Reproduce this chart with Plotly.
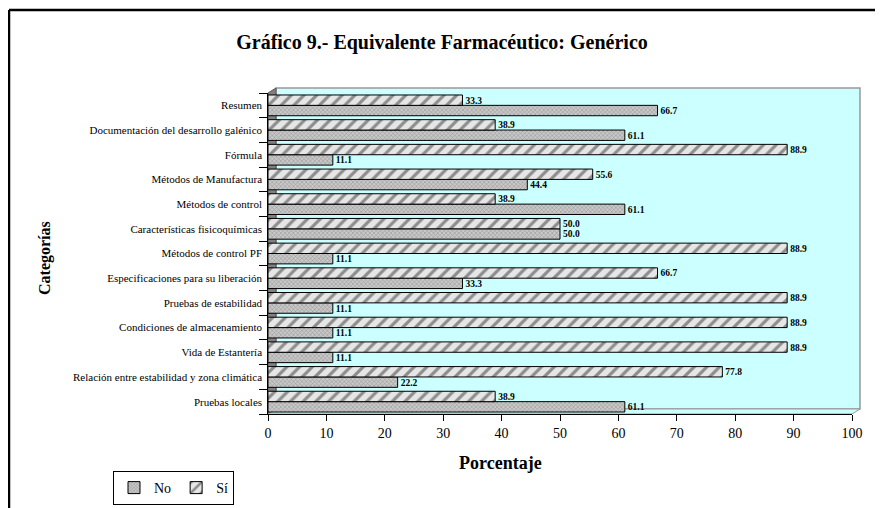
import plotly.graph_objects as go

categories = [
    "Resumen",
    "Documentación del desarrollo galénico",
    "Fórmula",
    "Métodos de Manufactura",
    "Métodos de control",
    "Características fisicoquímicas",
    "Métodos de control PF",
    "Especificaciones para su liberación",
    "Pruebas de estabilidad",
    "Condiciones de almacenamiento",
    "Vida de Estantería",
    "Relación entre estabilidad y zona climática",
    "Pruebas locales",
]
no_values = [66.7, 61.1, 11.1, 44.4, 61.1, 50.0, 11.1, 33.3, 11.1, 11.1, 11.1, 22.2, 61.1]
si_values = [33.3, 38.9, 88.9, 55.6, 38.9, 50.0, 88.9, 66.7, 88.9, 88.9, 88.9, 77.8, 38.9]
x_ticks = [0, 10, 20, 30, 40, 50, 60, 70, 80, 90, 100]

# page body has an 8px margin: figure occupies screen pixels 8..883
OFF = 8
W, H = 883 - OFF, 508 - OFF
# plot area in screen pixels
SL, SR, ST, SB = 268, 852, 93, 414
L, R, T, B = SL - OFF, SR - OFF, ST - OFF, SB - OFF

def px(x):  # screen x -> paper
    return (x - SL) / (SR - SL)

def py(y):  # screen y -> paper
    return (SB - y) / (SB - ST)

SERIF = "Liberation Serif, DejaVu Serif, serif"

fig = go.Figure()
fig.add_trace(go.Bar(
    name="No", y=categories, x=no_values, orientation="h",
    marker=dict(color="#b0b0b0", line=dict(color="#000000", width=1),
                pattern=dict(shape="x", fgcolor="#555555", bgcolor="#c8c8c8", size=3, solidity=0.3)),
    texttemplate="<b>%{x:.1f}</b>", textposition="outside",
    textfont=dict(family=SERIF, size=11, color="#000000"),
    cliponaxis=False,
))
fig.add_trace(go.Bar(
    name="Sí", y=categories, x=si_values, orientation="h",
    marker=dict(color="#e0e0e0", line=dict(color="#000000", width=1),
                pattern=dict(shape="/", fgcolor="#333333", bgcolor="#e6e6e6", size=9, solidity=0.35)),
    texttemplate="<b>%{x:.1f}</b>", textposition="outside",
    textfont=dict(family=SERIF, size=11, color="#000000"),
    cliponaxis=False,
))

dx = 8 / (SR - SL)
dy = 5 / (SB - ST)
shapes = [
    dict(type="rect", xref="paper", yref="paper", x0=dx, x1=1 + dx, y0=dy, y1=1 + dy,
         fillcolor="#CCFFFF", line=dict(color="#999999", width=1.5), layer="below"),
    dict(type="path", xref="paper", yref="paper",
         path=f"M 0 0 L {dx} {dy} L {dx} {1+dy} L 0 1 Z",
         fillcolor="#808080", line=dict(color="#555555", width=1), layer="below"),
    dict(type="path", xref="paper", yref="paper",
         path=f"M 0 0 L 1 0 L {1+dx} {dy} L {dx} {dy} Z",
         fillcolor="#CCFFFF", line=dict(color="#999999", width=1), layer="below"),
    dict(type="line", xref="paper", yref="paper", x0=px(9), x1=px(883), y0=py(10), y1=py(10),
         line=dict(color="#000000", width=2.5)),
    dict(type="line", xref="paper", yref="paper", x0=px(9), x1=px(9), y0=py(10), y1=py(508),
         line=dict(color="#000000", width=2.5)),
]

annotations = [
    dict(text="<b>Categorías</b>", xref="paper", yref="paper", x=px(45), y=py(258),
         xanchor="center", yanchor="middle",
         textangle=-90, showarrow=False, font=dict(family=SERIF, size=16, color="#000000")),
    dict(text="<b>Porcentaje</b>", xref="paper", yref="paper", x=px(500), y=py(463),
         xanchor="center", yanchor="middle",
         showarrow=False, font=dict(family=SERIF, size=18, color="#000000")),
]

fig.update_layout(
    width=W, height=H,
    margin=dict(l=L, r=W - R, t=T, b=H - B, autoexpand=False),
    paper_bgcolor="#ffffff",
    plot_bgcolor="rgba(0,0,0,0)",
    barmode="group",
    bargap=0.16,
    bargroupgap=0.0,
    title=dict(text="<b>Gráfico 9.- Equivalente Farmacéutico: Genérico</b>",
               x=(442 - OFF) / W, xref="container", xanchor="center",
               y=1 - (42 - OFF) / H, yref="container", yanchor="middle",
               font=dict(family=SERIF, size=20, color="#000000")),
    xaxis=dict(range=[0, 100], tickvals=x_ticks, ticks="outside", ticklen=6,
               tickcolor="#000000", showline=True, linecolor="#000000", linewidth=1,
               showgrid=False, zeroline=False,
               tickfont=dict(family=SERIF, size=14, color="#000000")),
    yaxis=dict(categoryorder="array", categoryarray=categories[::-1],
               ticks="outside", tickson="boundaries", ticklen=8, tickcolor="#000000",
               showline=True, linecolor="#000000", linewidth=1, showgrid=False,
               tickfont=dict(family=SERIF, size=11, color="#000000"), ticksuffix=" "),
    legend=dict(orientation="h", x=px(113), y=py(505), xanchor="left", yanchor="bottom",
                bordercolor="#000000", borderwidth=1, bgcolor="#ffffff",
                font=dict(family=SERIF, size=14, color="#000000"),
                itemwidth=30, tracegroupgap=0),
    shapes=shapes,
    annotations=annotations,
    showlegend=True,
)

fig.write_html("out.html")
